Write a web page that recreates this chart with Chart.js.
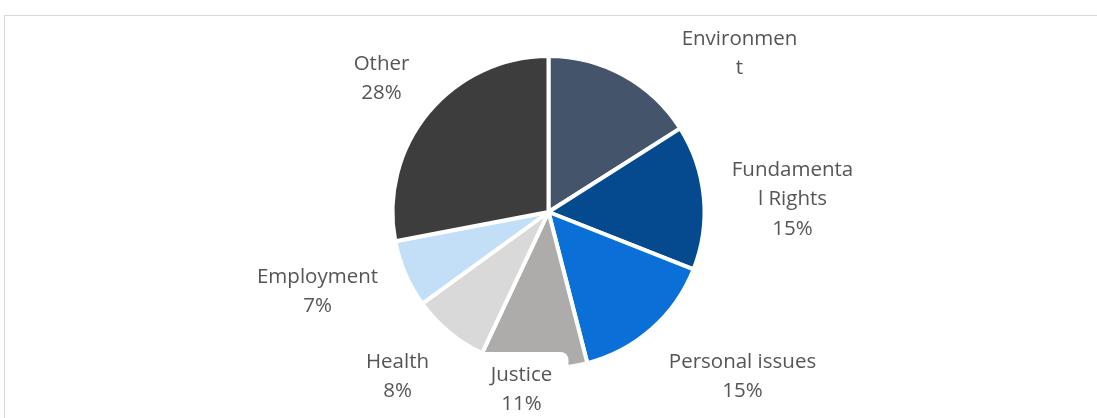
<!DOCTYPE html>
<html>
<head>
<meta charset="utf-8">
<script src="https://cdn.jsdelivr.net/npm/chart.js@4.4.1/dist/chart.umd.min.js"></script>
<style>
    html, body { margin: 0; padding: 0; background: #fff; overflow: hidden; }
    #wrap { position: relative; width: 1097px; height: 418px; overflow: hidden; }
    #frame { position: absolute; left: 4px; top: 15px; width: 1200px; height: 500px; border: 1px solid #d9d9d9; }
    #sharechart { position: absolute; left: 0; top: 0; }
</style>
</head>
<body>
<div id="wrap">
    <div id="frame"></div>
    <canvas id="sharechart" width="1097" height="418"></canvas>
</div>
<script>
    // data
    var categories = ['Environment', 'Fundamental Rights', 'Personal issues', 'Justice', 'Health', 'Employment', 'Other']
    var shares = [16, 15, 15, 11, 8, 7, 28]
    var colours = ['#44546a', '#054a8e', '#0a70d8', '#aeabab', '#d9d9d9', '#c3dff8', '#3d3d3d']

    // label text as broken in the original (word-wrapped mid word)
    var labelLines = [
        ['Environmen', 't'],
        ['Fundamenta', 'l Rights', '15%'],
        ['Personal issues', '15%'],
        ['Justice', '11%'],
        ['Health', '8%'],
        ['Employment', '7%'],
        ['Other', '28%']
    ]
    // label centres, offset from the pie centre (px)
    var labelPos = [
        [191, -173], [244, -42], [194, 150], [-27, 163], [-151, 150], [-231, 65], [-167, -148]
    ]

    // tiny stand-in for underscore's each
    var _ = { each: function (a, f) { for (var i = 0; i < a.length; i++) f(a[i], i) } }

    var labelPlugin = {
        id: 'outLabels',
        afterDatasetsDraw: function (chart) {
            var ctx = chart.ctx
            var arc = chart.getDatasetMeta(0).data[0]
            var cx = arc.x, cy = arc.y
            ctx.save()
            // white label box for Justice sits over its slice
            var jx = cx + labelPos[3][0], jy = cy + labelPos[3][1]
            ctx.fillStyle = '#fff'
            ctx.beginPath()
            ctx.roundRect(jx - 47, jy - 23, 94, 80, 8)
            ctx.fill()
            ctx.font = '20.5px "Open Sans"'
            ctx.fillStyle = '#555555'
            ctx.textAlign = 'center'
            ctx.textBaseline = 'middle'
            _.each(labelLines, function (lines, i) {
                var x = cx + labelPos[i][0], y = cy + labelPos[i][1]
                lines.forEach(function (t, k) {
                    ctx.fillText(t, x, y + k * 29.5)
                })
            })
            ctx.restore()
        }
    }

    var ctx = document.getElementById('sharechart').getContext('2d')
    var myPie = new Chart(ctx, {
        type: 'pie',
        data: {
            labels: categories,
            datasets: [{
                data: shares,
                backgroundColor: colours,
                borderColor: '#fff',
                borderWidth: 4
            }]
        },
        options: {
            responsive: false,
            animation: false,
            layout: { padding: { top: 54, bottom: 48 } },
            plugins: {
                legend: { display: false },
                tooltip: { enabled: false }
            }
        },
        plugins: [labelPlugin]
    })
</script>
</body>
</html>
